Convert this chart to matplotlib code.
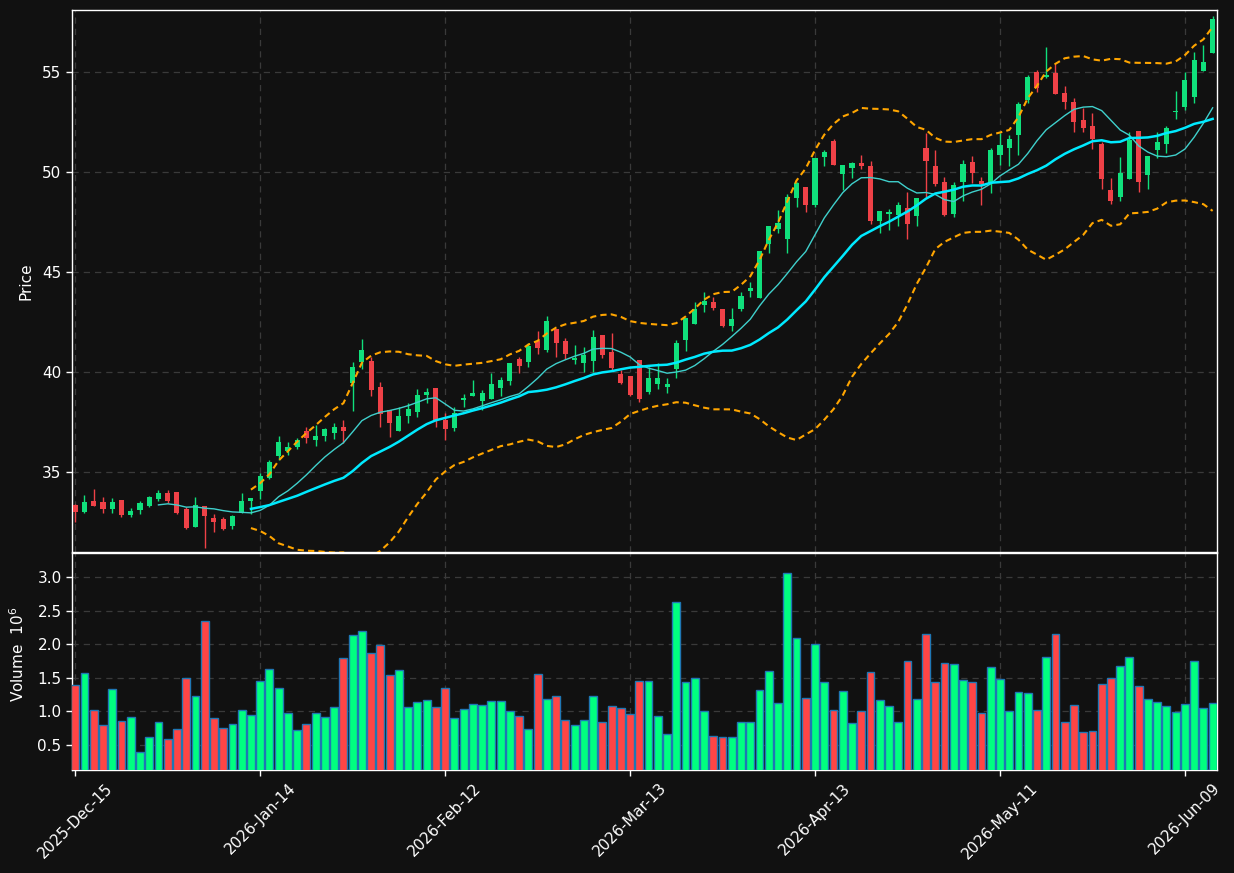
import numpy as np
import pandas as pd
import matplotlib
matplotlib.use("Agg")
import matplotlib.pyplot as plt

# ---------------- data ----------------
opens = [33.35, 33.02, 33.55, 33.50, 33.17, 33.60, 32.85, 33.12, 33.30, 33.63,
         33.95, 34.00, 33.15, 32.27, 33.30, 32.70, 32.65, 32.32, 32.93, 33.57,
         34.07, 34.72, 35.80, 36.05, 36.27, 37.05, 36.60, 36.80, 36.95, 37.25,
         39.43, 40.52, 40.55, 39.25, 38.10, 37.07, 37.82, 38.02, 38.87, 39.18,
         37.60, 37.22, 38.62, 38.80, 38.57, 38.65, 39.22, 39.57, 40.65, 40.52,
         41.55, 41.10, 42.15, 41.55, 40.62, 40.43, 40.57, 41.85, 41.00, 39.90,
         39.80, 40.60, 39.02, 39.40, 39.27, 40.15, 41.60, 42.40, 43.35, 43.48,
         43.13, 42.30, 43.15, 44.05, 43.72, 46.40, 47.15, 46.65, 48.72, 49.23,
         48.35, 50.73, 51.57, 49.90, 50.22, 50.47, 50.30, 47.55, 47.90, 47.85,
         48.18, 47.82, 51.18, 50.30, 49.48, 47.90, 49.52, 50.48, 49.55, 49.47,
         50.85, 51.18, 51.85, 53.60, 55.00, 54.75, 54.93, 53.93, 53.48, 52.60,
         52.30, 51.40, 49.10, 48.77, 49.65, 52.05, 49.85, 51.10, 51.40, 53.02,
         53.27, 53.73, 55.05, 55.97]
highs = [33.40, 33.85, 34.15, 33.73, 33.68, 33.62, 33.18, 33.55, 33.80, 34.10,
         34.10, 34.00, 33.23, 33.73, 33.30, 32.88, 32.75, 32.85, 33.95, 33.68,
         34.97, 35.60, 36.80, 36.52, 36.68, 37.27, 37.35, 37.18, 37.43, 37.60,
         40.52, 41.63, 40.77, 39.48, 38.10, 38.23, 38.47, 39.13, 39.18, 39.18,
         37.93, 38.27, 38.90, 39.60, 39.10, 39.93, 39.73, 40.47, 40.77, 41.43,
         42.05, 42.80, 42.15, 41.72, 41.35, 41.23, 42.10, 41.85, 41.93, 40.10,
         39.80, 40.60, 40.27, 40.47, 39.72, 41.60, 42.68, 43.52, 44.02, 43.77,
         43.13, 43.18, 43.98, 44.52, 46.05, 47.30, 48.10, 48.88, 49.52, 49.23,
         50.68, 51.10, 51.63, 50.35, 50.52, 50.83, 50.55, 48.05, 48.13, 48.48,
         48.98, 48.68, 51.93, 51.10, 49.77, 49.48, 50.60, 50.80, 49.77, 51.18,
         51.93, 51.85, 53.52, 54.85, 55.10, 56.23, 55.38, 54.30, 53.68, 53.18,
         52.97, 51.52, 49.72, 50.73, 52.02, 52.05, 50.80, 52.02, 52.30, 54.05,
         55.02, 55.98, 56.35, 57.80]
lows = [32.52, 32.97, 33.30, 32.93, 32.97, 32.77, 32.73, 32.88, 33.23, 33.57,
        33.43, 32.90, 32.17, 32.25, 31.18, 31.98, 32.12, 32.13, 32.93, 32.90,
        33.65, 34.65, 35.60, 35.85, 36.13, 36.47, 36.32, 36.57, 36.63, 36.43,
        38.07, 40.13, 38.80, 37.23, 36.73, 37.07, 37.43, 37.73, 38.43, 37.23,
        36.60, 37.05, 38.27, 38.80, 38.10, 38.65, 38.80, 39.35, 39.93, 40.27,
        40.88, 41.02, 40.77, 40.65, 40.40, 40.02, 40.02, 40.68, 40.10, 39.40,
        38.80, 38.52, 38.88, 39.15, 38.93, 39.72, 41.07, 42.40, 43.02, 43.10,
        42.27, 42.07, 43.07, 43.77, 43.72, 45.97, 46.93, 45.93, 48.27, 47.98,
        48.27, 50.32, 50.35, 49.10, 49.68, 50.13, 47.38, 46.97, 47.08, 47.32,
        46.63, 47.30, 48.77, 49.30, 47.80, 47.73, 48.57, 49.43, 48.35, 48.97,
        50.35, 50.32, 50.85, 53.43, 54.02, 54.68, 53.92, 53.13, 52.02, 52.02,
        51.13, 49.13, 48.38, 48.57, 49.65, 49.02, 49.13, 50.68, 50.93, 52.63,
        53.10, 53.47, 55.05, 55.97]
closes = [33.02, 33.50, 33.32, 33.17, 33.50, 32.85, 33.05, 33.45, 33.75, 33.95,
          33.55, 32.93, 32.22, 33.33, 32.82, 32.52, 32.17, 32.80, 33.55, 33.68,
          34.80, 35.50, 36.50, 36.25, 36.60, 36.72, 36.80, 37.15, 37.25, 37.05,
          40.25, 41.10, 39.10, 37.88, 37.43, 37.80, 38.15, 38.83, 39.00, 37.57,
          37.17, 37.93, 38.72, 38.95, 38.95, 39.40, 39.60, 40.47, 40.32, 41.30,
          41.22, 42.55, 41.43, 40.88, 40.72, 40.85, 41.73, 40.83, 40.22, 39.47,
          38.87, 38.67, 39.68, 39.68, 39.40, 41.43, 42.68, 43.15, 43.57, 43.22,
          42.30, 42.63, 43.80, 44.22, 46.05, 47.30, 47.43, 48.73, 49.43, 48.35,
          50.68, 51.02, 50.35, 50.35, 50.47, 50.30, 47.55, 48.05, 48.02, 48.35,
          47.40, 48.68, 50.57, 49.40, 47.85, 49.35, 50.38, 49.97, 49.40, 51.10,
          51.35, 51.67, 53.40, 54.77, 54.22, 54.85, 53.92, 53.52, 52.52, 52.22,
          51.63, 49.65, 48.55, 49.93, 51.60, 49.52, 50.80, 51.52, 52.22, 53.07,
          54.60, 55.60, 55.52, 57.65]
volumes_m = [1.387, 1.566, 1.014, 0.790, 1.327, 0.849, 0.909, 0.386, 0.610, 0.834,
             0.580, 0.730, 1.496, 1.222, 2.343, 0.894, 0.745, 0.805, 1.014, 0.939,
             1.447, 1.626, 1.342, 0.969, 0.715, 0.805, 0.969, 0.909, 1.058, 1.790,
             2.134, 2.193, 1.865, 1.984, 1.536, 1.611, 1.058, 1.133, 1.163, 1.058,
             1.342, 0.894, 1.029, 1.103, 1.088, 1.148, 1.148, 0.999, 0.924, 0.730,
             1.551, 1.178, 1.222, 0.864, 0.790, 0.864, 1.222, 0.834, 1.073, 1.043,
             0.954, 1.447, 1.447, 0.924, 0.655, 2.626, 1.432, 1.491, 0.999, 0.625,
             0.610, 0.610, 0.834, 0.834, 1.312, 1.596, 1.118, 3.059, 2.089, 1.193,
             2.000, 1.432, 1.014, 1.297, 0.819, 0.999, 1.581, 1.163, 1.073, 0.834,
             1.745, 1.178, 2.148, 1.432, 1.715, 1.700, 1.462, 1.432, 0.969, 1.656,
             1.476, 0.999, 1.282, 1.267, 1.014, 1.805, 2.148, 0.834, 1.088, 0.685,
             0.700, 1.402, 1.491, 1.671, 1.805, 1.372, 1.178, 1.133, 1.073, 0.984,
             1.103, 1.745, 1.043, 1.118]
tick_labels = ['2025-Dec-15', '2026-Jan-14', '2026-Feb-12', '2026-Mar-13',
               '2026-Apr-13', '2026-May-11', '2026-Jun-09']
tick_step = 20
price_ticks = [35, 40, 45, 50, 55]
volume_ticks = [0.5, 1.0, 1.5, 2.0, 2.5, 3.0]

# ---------------- styling ----------------
BG = '#111111'
UP_C = '#10e07c'
DN_C = '#ef4147'
VUP_C = '#00ff80'
VDN_C = '#ff4545'
GRID_C = '#3a3a3a'
TXT = 'white'

o = np.array(opens); h = np.array(highs); l = np.array(lows); c = np.array(closes)
v = np.array(volumes_m)
n = len(c)
x = np.arange(n)
up = c >= o

s = pd.Series(c)
ma10 = s.rolling(10).mean()
ma20 = s.rolling(20).mean()
sd20 = s.rolling(20).std(ddof=0)
bb_up = ma20 + 2 * sd20
bb_dn = ma20 - 2 * sd20

W, H = 1234, 873
fig = plt.figure(figsize=(W / 100, H / 100), dpi=100, facecolor=BG)
L, R = 72 / W, 1217 / W
ax = fig.add_axes([L, 1 - 552 / H, R - L, (552 - 10) / H], facecolor=BG)
axv = fig.add_axes([L, 1 - 770 / H, R - L, (770 - 553) / H], facecolor=BG, sharex=ax)

# candles
col = np.where(up, UP_C, DN_C)
ax.vlines(x, l, h, colors=col, linewidth=1, zorder=2)
body_bot = np.minimum(o, c)
body_h = np.maximum(np.abs(c - o), 0.04)
ax.bar(x, body_h, bottom=body_bot, width=0.55, color=col, linewidth=0, zorder=3)

# overlays
ax.plot(x, bb_up, color='#ffa500', lw=1.5, ls=(0, (3, 2)), zorder=4)
ax.plot(x, bb_dn, color='#ffa500', lw=1.5, ls=(0, (3, 2)), zorder=4)
ax.plot(x, ma10, color='#3fd0cc', lw=1.0, zorder=4)
ax.plot(x, ma20, color='#00eaff', lw=1.8, zorder=4)

# volume
vcol = np.where(up, VUP_C, VDN_C)
axv.bar(x, v, width=0.85, color=vcol, edgecolor='#1f77b4', linewidth=1.0, zorder=3)

for a in (ax, axv):
    a.grid(True, color=GRID_C, linestyle=(0, (5, 4)), linewidth=0.9)
    a.set_axisbelow(True)
    for sp in a.spines.values():
        sp.set_color('white')
        sp.set_linewidth(1.0)
    a.tick_params(colors=TXT, labelsize=11, length=4, width=1)

ax.set_xlim(-0.35, n - 1 + 0.47)
ax.set_ylim(31.0, 58.1)
ax.set_yticks(price_ticks)
ax.set_ylabel('Price', color=TXT, fontsize=11)
ax.tick_params(axis='x', labelbottom=False, length=0)

axv.set_ylim(0.122, 3.363)
axv.set_yticks(volume_ticks)
axv.set_yticklabels([f'{t:.1f}' for t in volume_ticks])
axv.set_ylabel('Volume  $10^6$', color=TXT, fontsize=11)
axv.set_xticks(np.arange(0, n, tick_step)[:len(tick_labels)])
axv.set_xticklabels(tick_labels, rotation=45, ha='center', fontsize=11, color=TXT)

ax.yaxis.set_label_coords(-0.0338, 0.5)
axv.yaxis.set_label_coords(-0.0395, 0.535)

fig.savefig('out.png', dpi=100, facecolor=BG)
